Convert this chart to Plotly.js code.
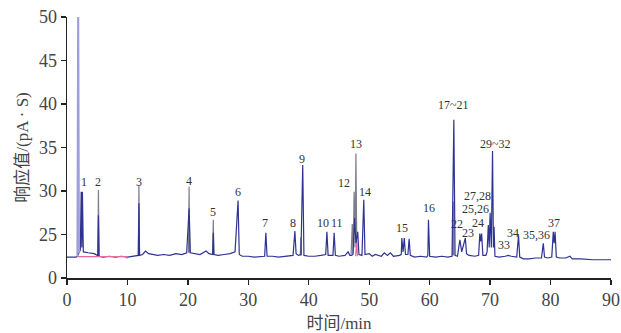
<!DOCTYPE html>
<html>
<head>
<meta charset="utf-8">
<script src="https://cdn.plot.ly/plotly-3.0.1.min.js"></script>
<style>html,body{margin:0;padding:0;background:#fff;}#chart{width:621px;height:333px;}</style>
</head>
<body>
<div id="chart"></div>
<script>
// Sample chromatogram (blue) — time (min) and response
var sampleTime = [0,1.5,1.7,2.0,2.2,2.35,2.45,2.55,2.7,3.5,4.5,5.0,5.1,5.2,5.3,6,7,8,9,10,11,11.8,11.9,12.0,12.5,13,13.5,15,16,17,18,19,19.8,20.2,20.4,21,22,23,23.5,24.1,24.2,24.3,25,26,27,27.8,28.3,28.5,29,30,31,32.7,32.9,33.1,34,35,36,37.4,37.7,37.9,38.3,38.7,39.0,39.2,40,41,42,42.8,43.0,43.2,44.0,44.2,44.4,45,46,46.5,46.8,47.1,47.3,47.6,47.8,48.1,48.3,48.8,49.1,49.3,50,50.5,51,52,52.5,53,53.5,54,55,55.3,55.4,55.6,55.8,56.0,56.4,56.6,56.8,57.5,58.5,59.5,59.7,59.8,60.0,61,62,63,63.7,64.0,64.2,64.6,65.0,65.3,65.9,66.1,66.5,67.5,68.1,68.3,68.45,68.6,68.8,69.3,69.5,69.7,69.85,70.0,70.2,70.4,70.55,70.65,70.8,71.5,72.5,73,73.5,74.4,74.7,74.9,75.5,76.5,77.5,78.5,78.8,79.0,79.5,80.2,80.45,80.6,80.75,80.95,81.5,82.5,83.2,83.6,85,87,90];
var sampleResp = [22.4,22.4,22.5,23.0,23.2,29.9,23.5,29.9,23.0,22.9,22.8,22.6,22.6,27.2,22.5,22.4,22.5,22.4,22.5,22.4,22.5,22.6,28.6,22.6,22.7,23.1,22.8,22.6,22.7,22.6,22.8,22.7,22.9,28.0,22.9,22.8,22.7,23.1,22.8,22.7,25.2,22.7,22.6,22.7,22.8,23.0,28.9,22.7,22.5,22.5,22.4,22.5,25.2,22.5,22.5,22.4,22.5,22.6,25.4,22.8,22.6,22.7,33.0,22.6,22.5,22.5,22.6,22.7,25.3,22.6,22.6,25.2,22.6,22.5,22.6,23.0,22.6,22.6,22.7,26.9,24.0,25.3,22.7,22.6,29.0,22.7,22.8,22.5,22.7,22.5,22.9,22.6,22.9,22.5,22.6,22.7,24.6,23.0,24.6,22.7,22.7,24.5,22.6,22.4,22.5,22.4,22.6,26.7,22.5,22.4,22.5,22.4,22.5,38.2,22.6,22.5,24.4,23.0,24.6,22.8,22.6,22.5,22.6,25.1,24.2,25.1,22.6,22.6,23.0,26.1,23.5,27.5,23.5,34.6,23.5,25.9,22.5,22.4,22.5,22.6,22.5,22.4,24.9,22.4,22.2,22.2,22.3,22.3,24.0,22.4,22.3,22.4,25.3,24.0,25.3,22.4,22.3,22.3,22.5,22.2,22.2,22.1,22.1];

// Standard chromatogram (grey) — only the peaks that rise above the sample
var standardTime = [5.1,5.2,5.3,null,11.8,11.9,12.0,null,20.1,20.2,20.3,null,24.1,24.2,24.3,null,38.6,38.7,38.8,null,47.0,47.2,47.35,47.5,47.65,47.8,47.95,null,63.8,63.9,64.0];
var standardResp = [22.6,30.1,22.5,null,22.6,30.7,22.6,null,22.9,30.5,22.9,null,22.7,26.7,22.7,null,22.6,24.7,22.6,null,22.7,26.2,22.8,29.9,23.5,34.3,23.0,null,22.6,28.8,22.6];

// Solvent peak
var solventTime = [1.72,1.85,1.98];
var solventResp = [22.5,52,22.9];

// Integration baseline marks (pink)
var baseTime = [1.7,9.9,9.9,null,47.75,47.9,48.05];
var baseResp = [22.45,22.45,22.2,null,22.5,24.0,22.5];

// Peak labels
var peakLabels = ['1','2','3','4','5','6','7','8','9','10','11','12','13','14','15','16','17~21','22','23','24','25,26','27,28','29~32','33','34','35,36','37'];
var labelTime = [2.81,5.18,11.91,20.24,24.21,28.34,32.76,37.44,38.83,42.3,44.6,45.83,47.82,49.31,55.48,59.89,63.86,64.6,66.4,68.0,67.62,67.84,70.81,72.3,73.79,77.71,80.58];
var labelResp = [31.07,31.07,31.03,31.18,27.62,29.92,26.29,26.29,33.64,26.32,26.32,30.89,35.4,29.92,25.71,28.01,39.89,26.15,25.12,26.32,27.95,29.4,35.4,23.79,25.17,24.94,26.36];

// Axis ticks (broken axis: bottom tick labelled 0)
var yTickVals = [20,25,30,35,40,45,50];
var yTickText = ['0','25','30','35','40','45','50'];
var xTickVals = [0,10,20,30,40,50,60,70,80,90];

var traces = [
  {x: standardTime, y: standardResp, type:'scatter', mode:'lines', line:{color:'#7d7d8c', width:1.2}, connectgaps:false, hoverinfo:'skip'},
  {x: sampleTime, y: sampleResp, type:'scatter', mode:'lines', line:{color:'#2f3391', width:1.2}, hoverinfo:'skip'},
  {x: baseTime, y: baseResp, type:'scatter', mode:'lines', line:{color:'#e8699a', width:1.2}, connectgaps:false, hoverinfo:'skip'},
  {x: solventTime, y: solventResp, type:'scatter', mode:'lines', line:{color:'#9d9fd6', width:2}, hoverinfo:'skip'}
];

var annotations = peakLabels.map(function(t,i){
  return {x: labelTime[i], y: labelResp[i], xref:'x', yref:'y', text:t, showarrow:false,
    xanchor:'center', yanchor:'middle', borderpad:0,
    font:{family:'Liberation Serif, serif', size:12, color:'#333'}};
});

var layout = {
  width:621, height:333,
  margin:{l:67, r:10, t:17, b:55},
  paper_bgcolor:'#fff', plot_bgcolor:'#fff',
  showlegend:false,
  xaxis:{range:[0,90], tickvals:xTickVals, ticks:'outside', ticklen:5, tickwidth:1.3, tickcolor:'#222',
    showline:true, linecolor:'#222', linewidth:1.5, showgrid:false, zeroline:false,
    tickfont:{family:'Liberation Serif, serif', size:18, color:'#444'},
    title:{text:'时间/min', font:{family:'Liberation Serif, Noto Sans CJK SC, serif', size:17, color:'#444'}, standoff:8}},
  yaxis:{range:[20,50], tickvals:yTickVals, ticktext:yTickText, ticks:'outside', ticklen:5, tickwidth:1.3, tickcolor:'#222',
    showline:true, linecolor:'#222', linewidth:1.5, showgrid:false, zeroline:false,
    tickfont:{family:'Liberation Serif, serif', size:18, color:'#444'},
    title:{text:'响应值/(pA · S)', font:{family:'Liberation Serif, Noto Sans CJK SC, serif', size:17, color:'#444'}, standoff:6}},
  annotations: annotations
};

Plotly.newPlot('chart', traces, layout, {displayModeBar:false, staticPlot:true});
</script>
</body>
</html>
